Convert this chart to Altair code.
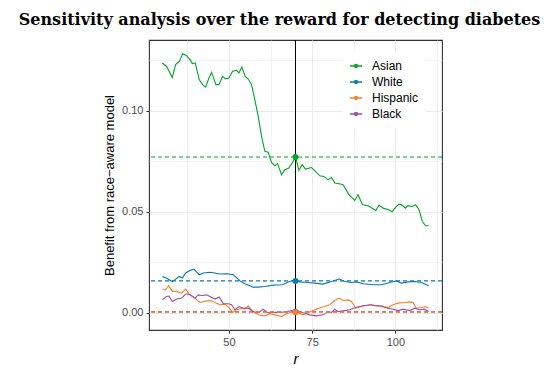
import altair as alt
import pandas as pd

# ---------------- data ----------------
asian_r = [30, 31.3, 33, 34, 35.1, 36.1, 37.3, 38.5, 39, 39.9, 41.1, 42.1, 43, 44, 44.8, 46.1, 47, 48.1, 49, 50,
           51.1, 52.3, 53, 53.9, 54.9, 55.8, 56.8, 57.8, 58.8, 59.8, 60.8, 61.8, 62.8, 63.8, 64.6, 65.8, 66.8, 68,
           69, 70, 70.5, 71, 72, 73, 74.8, 76, 77.3, 78.5, 79.8, 80.8, 81.8, 83.1, 84.3, 86.1, 87.8, 88.8, 90.1,
           91.8, 94.1, 95.1, 96.3, 98, 99, 100.1, 101.1, 102, 103, 103.8, 105.1, 106.1, 107.1, 108.1, 109.1, 110]
asian_v = [0.1236, 0.1219, 0.1165, 0.1228, 0.1244, 0.1282, 0.1272, 0.1249, 0.1233, 0.1236, 0.1153, 0.1129,
           0.1117, 0.1162, 0.1190, 0.1129, 0.1129, 0.1170, 0.1157, 0.1162, 0.1195, 0.1200, 0.1187, 0.1216,
           0.1170, 0.1157, 0.1129, 0.1054, 0.0972, 0.0873, 0.0799, 0.0795, 0.0744, 0.0728, 0.0738, 0.0683,
           0.0708, 0.0716, 0.0741, 0.0771, 0.0741, 0.0705, 0.0733, 0.0711, 0.0719, 0.0700, 0.0678, 0.0675,
           0.0658, 0.0670, 0.0642, 0.0639, 0.0634, 0.0584, 0.0556, 0.0584, 0.0535, 0.0530, 0.0506, 0.0533,
           0.0518, 0.0510, 0.0500, 0.0523, 0.0538, 0.0533, 0.0518, 0.0530, 0.0526, 0.0535, 0.0510, 0.0452,
           0.0431, 0.0431, 0.0422]

white_r = [30, 31.2, 33, 34, 35.1, 36, 37, 38.3, 39.5, 41.1, 42.3, 44.3, 45.8, 47.3, 49.5, 51.3, 52.1, 53.3,
           54.8, 56.3, 57.3, 58.8, 60.8, 63.3, 66.1, 67.8, 69.3, 70, 71.3, 73.8, 75.8, 78.3, 80.8, 83.1, 84.8,
           86.8, 88.3, 90.3, 93.3, 95.8, 98.3, 100.3, 101.8, 103.8, 105.8, 107.8, 110]
white_v = [0.0180, 0.0172, 0.0155, 0.0167, 0.0180, 0.0172, 0.0197, 0.0209, 0.0216, 0.0188, 0.0197, 0.0201,
           0.0197, 0.0192, 0.0193, 0.0188, 0.0177, 0.0158, 0.0144, 0.0134, 0.0127, 0.0127, 0.0130, 0.0137,
           0.0139, 0.0153, 0.0160, 0.0158, 0.0153, 0.0150, 0.0147, 0.0142, 0.0155, 0.0167, 0.0155, 0.0150,
           0.0153, 0.0144, 0.0139, 0.0139, 0.0150, 0.0158, 0.0147, 0.0153, 0.0155, 0.0150, 0.0134]

hisp_r = [30, 31, 31.9, 33, 34.3, 35.8, 37, 38.3, 39.8, 41.3, 43.3, 44.8, 46.1, 47.3, 48.8, 50.1, 51.1, 52.3,
          53.8, 54.8, 55.8, 57.3, 58.8, 60.8, 62.3, 63.8, 65.8, 67.3, 69.3, 70, 72.3, 73.3, 76.3, 77.8, 78.8,
          80.3, 81.8, 83.1, 84.3, 85.8, 86.8, 88.1, 89.8, 92.3, 95.3, 97.8, 99.3, 100.8, 102.8, 104.3, 105.3,
          106.3, 107.8, 109.1, 110]
hisp_v = [0.0114, 0.0114, 0.0134, 0.0106, 0.0106, 0.0097, 0.0117, 0.0089, 0.0073, 0.0051, 0.0059, 0.0060,
          0.0048, 0.0040, 0.0043, 0.0023, 0.0002, 0.0015, 0.0023, 0.0018, 0.0035, 0.0006, -0.0010, -0.0015,
          -0.0005, -0.0010, -0.0018, -0.0005, 0.0005, 0.0005, -0.0010, -0.0002, 0.0018, 0.0028, 0.0031,
          0.0040, 0.0061, 0.0073, 0.0061, 0.0064, 0.0056, 0.0023, 0.0031, 0.0040, 0.0031, 0.0026, 0.0040,
          0.0048, 0.0051, 0.0054, 0.0051, 0.0023, 0.0026, 0.0031, 0.0023]

black_r = [30, 31.2, 32, 33, 34.3, 35.8, 37.1, 38.3, 39.8, 40.8, 42.1, 43.3, 44.6, 45.8, 47.1, 48.3, 49.8,
           50.8, 51.8, 53.1, 54.3, 55.8, 57.3, 58.8, 60.3, 61.8, 63.3, 65.3, 67.3, 68.8, 70, 70.3, 72.3, 74.3,
           76.3, 78.3, 79.8, 80.8, 81.8, 82.8, 84.8, 86.3, 88.3, 90.3, 92.8, 94.3, 95.8, 97.8, 99.3, 100.8,
           102.3, 104.3, 105.8, 107.3, 108.8, 110]
black_v = [0.0064, 0.0081, 0.0083, 0.0056, 0.0068, 0.0073, 0.0094, 0.0089, 0.0073, 0.0089, 0.0086, 0.0089,
           0.0078, 0.0068, 0.0078, 0.0045, 0.0045, 0.0040, 0.0015, 0.0031, 0.0023, 0.0023, 0.0006, 0.0000,
           0.0018, 0.0000, 0.0002, 0.0002, 0.0005, 0.0011, 0.0005, 0.0011, 0.0000, -0.0010, -0.0015, -0.0010,
           0.0006, 0.0002, 0.0018, 0.0006, 0.0011, 0.0015, 0.0028, 0.0035, 0.0040, 0.0035, 0.0035, 0.0023,
           0.0018, 0.0011, 0.0018, 0.0011, 0.0023, 0.0015, 0.0018, 0.0006]

groups = ["Asian", "White", "Hispanic", "Black"]
colors = ["#00A62A", "#0878B8", "#FF7B24", "#9A50A6"]
ref_r = 70
ref_groups = ["Asian", "White", "Black", "Hispanic"]
ref_values = [0.0771, 0.0158, 0.0005, 0.0003]

x_grid = [37.5, 50, 62.5, 75, 87.5, 100, 112.5]
y_grid = [0, 0.025, 0.05, 0.075, 0.1, 0.125]

title_text = "Sensitivity analysis over the reward for detecting diabetes"
x_title = "r"
y_title = "Benefit from race\u2212aware model"

# ---------------- tables ----------------
rows = []
for g, rr, vv in [("Asian", asian_r, asian_v), ("White", white_r, white_v),
                  ("Hispanic", hisp_r, hisp_v), ("Black", black_r, black_v)]:
    for a, b in zip(rr, vv):
        rows.append({"r": a, "value": b, "group": g})
df = pd.DataFrame(rows)
ref_df = pd.DataFrame({"group": ref_groups, "value": ref_values, "r": [ref_r] * 4})
vline_df = pd.DataFrame({"r": [ref_r]})

xscale = alt.Scale(domain=[26, 114], nice=False, zero=False)
yscale = alt.Scale(domain=[-0.0085, 0.135], nice=False, zero=False)

sym = "M-1,0H1M-0.22,0a0.22,0.22 0 1,0 0.44,0a0.22,0.22 0 1,0 -0.44,0"
color = alt.Color("group:N", scale=alt.Scale(domain=groups, range=colors), sort=groups,
                  legend=alt.Legend(title=None, orient="none", legendX=193, legendY=12,
                                    fillColor="white", padding=7, symbolType=sym,
                                    symbolSize=150, symbolStrokeWidth=1.6, labelFontSize=12,
                                    labelFont="Liberation Sans", labelColor="black",
                                    rowPadding=3, labelOffset=9))

major_x = "datum.value % 25 == 0"
major_y = "abs(datum.value*20 - round(datum.value*20)) < 0.000001"

xaxis = alt.Axis(values=x_grid, title=x_title, titleFontStyle="italic", titleFontWeight="normal",
                 titleFontSize=15, titleFont="Liberation Sans", titleColor="black",
                 labelExpr=f"{major_x} ? format(datum.value, 'd') : ''",
                 labelFontSize=11, labelFont="Liberation Sans", labelColor="#4D4D4D",
                 tickColor={"condition": {"test": major_x, "value": "#333333"}, "value": "transparent"},
                 tickSize=3, labelPadding=3, titlePadding=4, domain=False,
                 gridColor="#EBEBEB",
                 gridWidth={"condition": {"test": major_x, "value": 1.1}, "value": 0.6})
yaxis = alt.Axis(values=y_grid, title=y_title, titleFontWeight="normal", titleFontSize=13,
                 titleFont="Liberation Sans", titleColor="black",
                 labelExpr=f"{major_y} ? format(datum.value, '.2f') : ''",
                 labelFontSize=11, labelFont="Liberation Sans", labelColor="#4D4D4D",
                 tickColor={"condition": {"test": major_y, "value": "#333333"}, "value": "transparent"},
                 tickSize=3, labelPadding=3, titlePadding=5, domain=False,
                 gridColor="#EBEBEB",
                 gridWidth={"condition": {"test": major_y, "value": 1.1}, "value": 0.6})

lines = alt.Chart(df).mark_line(strokeWidth=1.1).encode(
    x=alt.X("r:Q", scale=xscale, axis=xaxis),
    y=alt.Y("value:Q", scale=yscale, axis=yaxis),
    color=color,
    detail="group:N",
)

hlines = alt.Chart(ref_df).mark_rule(strokeDash=[4, 3], strokeWidth=1.2, opacity=1).encode(
    y=alt.Y("value:Q", scale=yscale),
    color=color,
)

vline = alt.Chart(vline_df).mark_rule(color="black", strokeWidth=1).encode(
    x=alt.X("r:Q", scale=xscale),
)

pts = alt.Chart(ref_df).mark_point(filled=True, size=35, opacity=1).encode(
    x=alt.X("r:Q", scale=xscale),
    y=alt.Y("value:Q", scale=yscale),
    color=color,
)

chart = alt.layer(lines, hlines, vline, pts).properties(
    width=293, height=290,
    autosize=alt.AutoSizeParams(type="none"),
    padding={"left": 141, "top": 32, "right": 98, "bottom": 35},
    title=alt.TitleParams(title_text, font="DejaVu Serif", fontSize=16, fontWeight="bold",
                          color="black", anchor="middle", dx=-16, offset=12),
).configure(background="white").configure_view(stroke="#333333", strokeWidth=1.1)

chart.save("out.html", embed_options={"renderer": "svg", "actions": False})
